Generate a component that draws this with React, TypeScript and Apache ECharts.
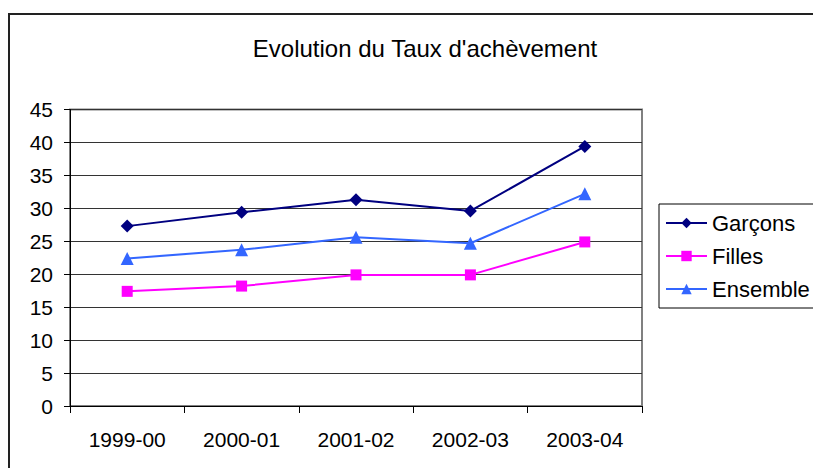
import React, { useEffect, useRef } from "react";
import * as echarts from "echarts";

const categories = ["1999-00", "2000-01", "2001-02", "2002-03", "2003-04"];
const garcons = [27.3, 29.4, 31.3, 29.6, 39.4];
const filles = [17.4, 18.2, 19.9, 19.9, 24.9];
const ensemble = [22.4, 23.7, 25.6, 24.7, 32.2];
const yTicks = { min: 0, max: 45, interval: 5 };

const FONT = "Liberation Sans, Arial, sans-serif";

export default function App() {
  const ref = useRef<HTMLDivElement>(null);
  useEffect(() => {
    if (!ref.current) return;
    const chart = echarts.init(ref.current, null, { renderer: "svg" });
    chart.setOption({
      animation: false,
      backgroundColor: "#fff",
      title: {
        text: "Evolution du Taux d'achèvement",
        left: 420,
        top: 31,
        textAlign: "center",
        textStyle: { fontFamily: FONT, fontSize: 24, fontWeight: "normal", color: "#000" },
      },
      graphic: [
        {
          type: "rect",
          shape: { x: 9, y: 14, width: 900, height: 500 },
          style: { fill: "none", stroke: "#222", lineWidth: 2 },
          silent: true,
        },
      ],
      legend: {
        orient: "vertical",
        left: 659,
        top: 204,
        padding: [8, 30, 8, 6],
        itemWidth: 41,
        itemHeight: 13,
        itemGap: 11,
        borderColor: "#000",
        borderWidth: 1,
        textStyle: { fontFamily: FONT, fontSize: 22, color: "#000", padding: [0, 0, 0, 0] },
        data: ["Garçons", "Filles", "Ensemble"],
      },
      grid: {
        left: 70,
        right: 171,
        top: 109.5,
        bottom: 62,
        show: true,
        borderColor: "#808080",
        borderWidth: 2,
        containLabel: false,
      },
      xAxis: {
        type: "category",
        data: categories,
        boundaryGap: true,
        axisLine: { lineStyle: { color: "#000", width: 1 } },
        axisTick: { show: true, length: 7, inside: false, alignWithLabel: false, lineStyle: { color: "#000" } },
        axisLabel: { fontFamily: FONT, fontSize: 21, color: "#000", margin: 23 },
        splitLine: { show: false },
      },
      yAxis: {
        type: "value",
        min: yTicks.min,
        max: yTicks.max,
        interval: yTicks.interval,
        axisLine: { show: true, lineStyle: { color: "#000", width: 1 } },
        axisTick: { show: true, length: 6, lineStyle: { color: "#000" } },
        axisLabel: { fontFamily: FONT, fontSize: 21, color: "#000", margin: 17 },
        splitLine: { show: true, lineStyle: { color: "#333", width: 1 } },
      },
      series: [
        {
          name: "Garçons",
          type: "line",
          data: garcons,
          symbol: "diamond",
          symbolSize: 13,
          color: "#000080",
          lineStyle: { color: "#000080", width: 2 },
          itemStyle: { color: "#000080" },
        },
        {
          name: "Filles",
          type: "line",
          data: filles,
          symbol: "rect",
          symbolSize: 11,
          color: "#FF00FF",
          lineStyle: { color: "#FF00FF", width: 2 },
          itemStyle: { color: "#FF00FF" },
        },
        {
          name: "Ensemble",
          type: "line",
          data: ensemble,
          symbol: "triangle",
          symbolSize: 13,
          color: "#3366FF",
          lineStyle: { color: "#3366FF", width: 2 },
          itemStyle: { color: "#3366FF" },
        },
      ],
    });
    return () => chart.dispose();
  }, []);
  return (
    <div
      ref={ref}
      style={{ position: "fixed", left: 0, top: 0, width: 813, height: 468 }}
    />
  );
}
